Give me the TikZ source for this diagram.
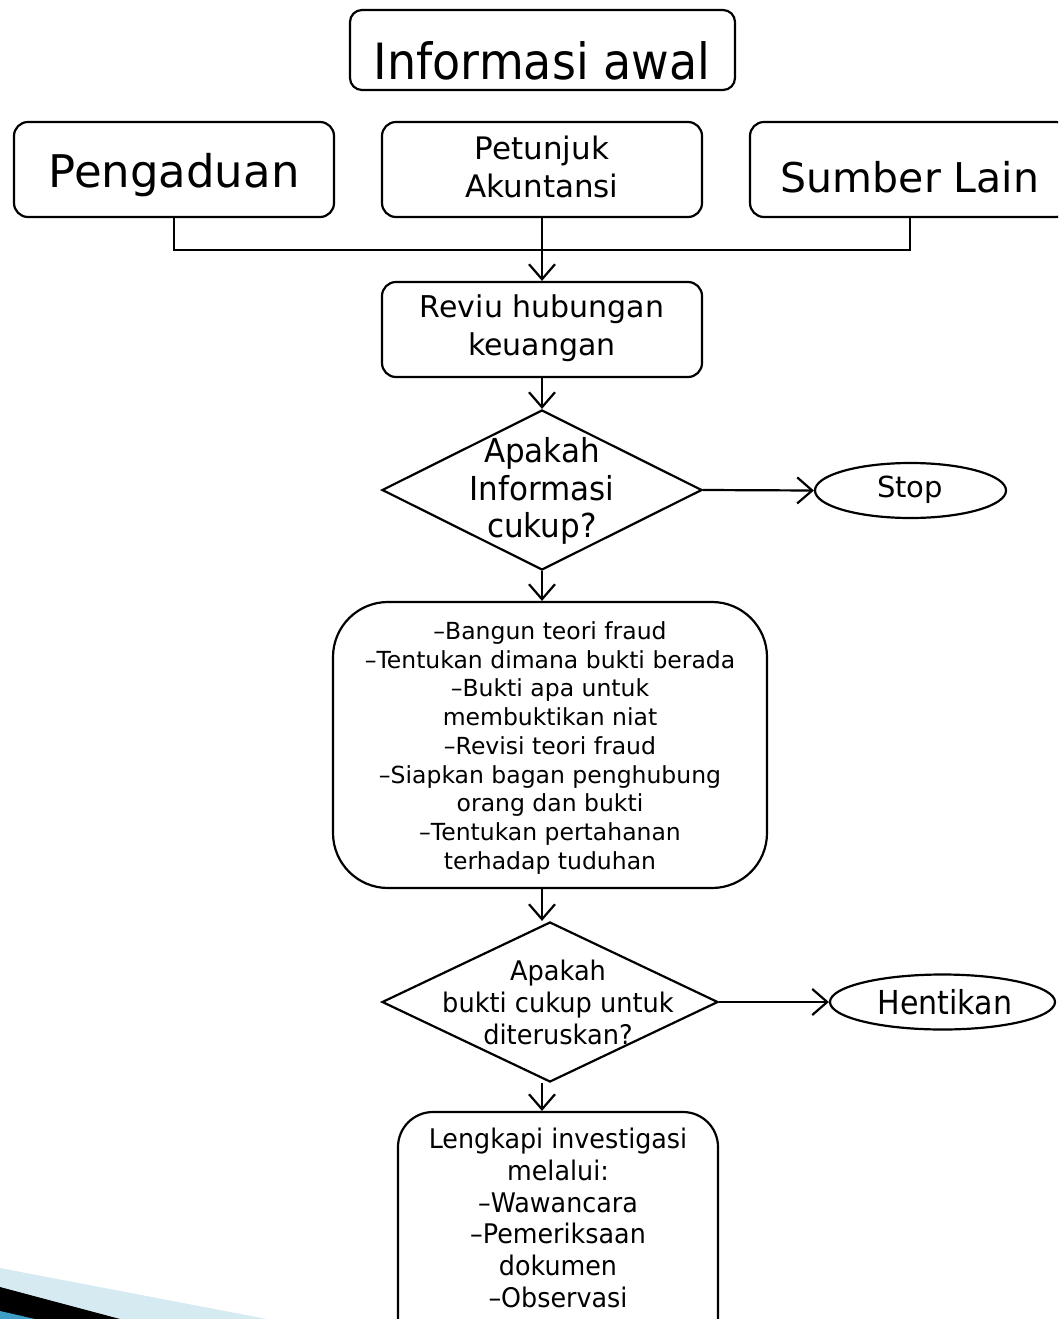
\documentclass[tikz,border=0pt]{standalone}
\usepackage{fontspec}
\setmainfont{DejaVu Sans}
\usetikzlibrary{shapes.geometric,arrows.meta}

% size, baseline skip, horizontal stretch
\newcommand\fsz[3]{\fontsize{#1}{#2}\selectfont\addfontfeatures{FakeStretch=#3}}

\definecolor{swooshlight}{HTML}{D6EAF2}
\definecolor{swooshblue}{HTML}{3E9FC6}

\begin{document}
\begin{tikzpicture}[x=1pt,y=-1pt,line width=2.2pt,
  rbox/.style={draw,rounded corners=14pt,inner sep=0pt},
  dec/.style={draw,diamond,inner sep=0pt},
  term/.style={draw,ellipse,inner sep=0pt},
  lbl/.style={align=center,inner sep=0pt},
  flow/.style={-{Straight Barb[length=15pt,width=26pt]}},
]
\useasboundingbox (0,0) rectangle (1058,1319);
\clip (0,0) rectangle (1058,1319);

% corner swoosh
\fill[swooshlight] (0,1268) -- (267,1319) -- (0,1319) -- cycle;
\fill[black] (0,1287) -- (120,1319) -- (0,1319) -- cycle;
\fill[swooshblue] (0,1311) -- (35,1319) -- (0,1319) -- cycle;

% shapes
\node[rbox,rounded corners=12pt,minimum width=385pt,minimum height=80pt] (info) at (542.5,50) {};
\node[rbox,minimum width=320pt,minimum height=95pt] (peng) at (174,169.5) {};
\node[rbox,minimum width=320pt,minimum height=95pt] (petu) at (542,169.5) {};
\node[rbox,minimum width=320pt,minimum height=95pt] (sumb) at (910,169.5) {};
\node[rbox,minimum width=320pt,minimum height=95pt] (reviu) at (542,329.5) {};
\node[dec,minimum width=320pt,minimum height=160pt] (d1) at (542,490) {};
\node[term,minimum width=191pt,minimum height=55pt] (stop) at (910.5,490.5) {};
\node[rbox,rounded corners=55pt,minimum width=434pt,minimum height=286pt] (big) at (550,745) {};
\node[dec,minimum width=336pt,minimum height=160pt] (d2) at (550,1002) {};
\node[term,minimum width=225pt,minimum height=55pt] (hent) at (942.5,1002) {};
\node[rbox,rounded corners=35pt,minimum width=320pt,minimum height=240pt] (last) at (558,1232) {};

% texts
\node[lbl,font=\fsz{50}{55}{0.92}] (tinfo) at (542,61) {Informasi awal};
\node[lbl,font=\fsz{45}{50}{1}] (tpeng) at (174,175) {Pengaduan};
\node[lbl,font=\fsz{31}{38}{1}] (tpetu) at (542,167) {Petunjuk\\Akuntansi};
\node[lbl,font=\fsz{41}{46}{1}] (tsumb) at (910,177) {Sumber Lain};
\node[lbl,font=\fsz{30}{38}{1}] (treviu) at (542,328) {Reviu hubungan\\keuangan};
\node[lbl,font=\fsz{33}{37.5}{0.94}] (td1) at (542,491) {Apakah\\Informasi\\cukup?};
\node[lbl,font=\fsz{29}{32}{1}] (tstop) at (910,490) {Stop};
\node[lbl,font=\fsz{23.5}{28.75}{1}] (tbig) at (550,748) {–Bangun teori fraud\\–Tentukan dimana bukti berada\\–Bukti apa untuk\\membuktikan niat\\–Revisi teori fraud\\–Siapkan bagan penghubung\\orang dan bukti\\–Tentukan pertahanan\\terhadap tuduhan};
\node[lbl,font=\fsz{27}{32}{0.95}] (td2) at (558,1002) {Apakah\\bukti cukup untuk\\diteruskan?};
\node[lbl,font=\fsz{33}{36}{0.91}] (thent) at (945,1002) {Hentikan};
\node[lbl,font=\fsz{27}{31.8}{0.94}] (tlast) at (558,1218) {Lengkapi investigasi\\melalui:\\–Wawancara\\–Pemeriksaan\\dokumen\\–Observasi};

% connectors
\coordinate (bus) at (542,250);
\draw (peng.south) |- (bus) -| (sumb.south);
\draw[flow] (petu.south) -- (reviu.north);
\draw[flow] (reviu.south) -- (d1.north);
\draw[flow] (d1.east) -- (stop.west);
\draw[flow] (d1.south) -- (d1.south |- big.north);
\draw[flow] (d1.south |- big.south) -- (d1.south |- d2.north);
\draw[flow] (d2.east) -- (hent.west);
\draw[flow] (d1.south |- d2.south) -- (d1.south |- last.north);
\end{tikzpicture}
\end{document}
